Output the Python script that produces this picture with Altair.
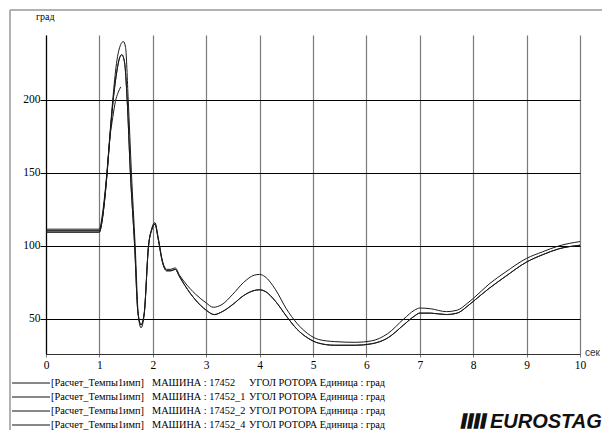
import altair as alt
import pandas as pd

# Rotor angle of machine 17452 (degrees) versus time (seconds)
t_a = [0, 1.0, 1.05, 1.1, 1.14, 1.2, 1.25, 1.32, 1.4, 1.45, 1.49, 1.54, 1.6, 1.67, 1.73, 1.78, 1.835,
       1.92, 1.98, 2.04, 2.1, 2.18, 2.26, 2.34, 2.42, 2.5, 2.6, 2.8, 3.0, 3.13, 3.3, 3.5, 3.7, 3.9, 4.0,
       4.1, 4.3, 4.5, 4.7, 4.9, 5.1, 5.4, 5.8, 6.1, 6.4, 6.7, 6.9, 7.0, 7.2, 7.5, 7.7, 7.9, 8.0, 8.3,
       8.6, 9.0, 9.3, 9.6, 10.0]
v_a = [111.5, 111.5, 120, 135, 150, 178, 200, 225, 238, 240, 236, 200, 150, 100, 52, 44, 52,
       100, 112, 116, 106, 90, 84, 84, 85, 80, 75, 67, 61, 58, 60, 67, 75, 80, 80.5,
       79, 70, 57, 47, 40, 36, 34.5, 34, 35, 40, 50, 56, 57.5, 57, 55, 56, 61, 64, 74,
       82, 91.5, 96, 100, 103]

t_b = [0, 1.0, 1.05, 1.1, 1.14, 1.2, 1.25, 1.32, 1.38, 1.42, 1.47, 1.52, 1.58, 1.66, 1.72, 1.78, 1.84,
       1.92, 1.98, 2.04, 2.1, 2.18, 2.26, 2.34, 2.42, 2.5, 2.6, 2.8, 3.0, 3.15, 3.3, 3.5, 3.7, 3.9, 4.0,
       4.1, 4.3, 4.5, 4.7, 4.9, 5.1, 5.4, 5.8, 6.1, 6.4, 6.7, 6.9, 7.0, 7.2, 7.5, 7.7, 7.9, 8.0, 8.3,
       8.6, 9.0, 9.3, 9.6, 10.0]
v_b = [109.5, 109.5, 117, 132, 148, 176, 197, 218, 229, 231, 226, 200, 150, 100, 55, 46, 54,
       100, 111, 115, 105, 89, 83, 83, 84, 79, 73, 63, 56, 53, 55, 60, 66, 69.5, 70,
       69, 62, 52, 43, 37, 33.5, 32, 32, 33, 37, 46, 52, 54, 54, 53, 54, 59, 62, 71,
       79, 89, 94, 98, 100.5]

t_c = [0, 1.0, 1.05, 1.1, 1.14, 1.2, 1.25, 1.3, 1.35, 1.4]
v_c = [110.5, 110.5, 118, 133, 149, 175, 188, 199, 205, 209]

t_d = t_b
v_d = v_b

series_names = ["17452", "17452_1", "17452_2", "17452_4"]
legend_source = "[Расчет_Темпы1имп]"
legend_machine = ["МАШИНА : 17452", "МАШИНА : 17452_1", "МАШИНА : 17452_2", "МАШИНА : 17452_4"]
legend_var = "УГОЛ РОТОРА Единица : град"

x_ticks = list(range(0, 11))
y_ticks = [50, 100, 150, 200]

rows = []
for name, ts, vs in zip(series_names, [t_a, t_b, t_c, t_d], [v_a, v_b, v_c, v_d]):
    for t, v in zip(ts, vs):
        rows.append({"series": name, "t": t, "v": v})
df = pd.DataFrame(rows)

SERIF = "Liberation Serif"
SANS = "Liberation Sans"
W, H = 534, 319
LEG_FS = 10.3
one = alt.Data(values=[{"k": 0}])

curves = alt.Chart(df).mark_line(color="#1a1a1a", strokeWidth=1, interpolate="monotone").encode(
    x=alt.X("t:Q", scale=alt.Scale(domain=[0, 10], nice=False, zero=False),
            axis=alt.Axis(values=x_ticks, title=None, grid=True, gridColor="#7a7a7a",
                          gridWidth=1.2, domainColor="#333", domainWidth=1.2,
                          tickColor="#7a7a7a", tickSize=3, labelFont=SERIF, labelFontSize=11.5,
                          labelColor="#000", labelPadding=2, labelFlush=False)),
    y=alt.Y("v:Q", scale=alt.Scale(domain=[26, 244.5], nice=False, zero=False),
            axis=alt.Axis(values=y_ticks, title=None, grid=True, gridColor="#000",
                          gridWidth=1, domainColor="#000", domainWidth=1.2,
                          tickColor="#000", tickSize=6, labelFont=SERIF, labelFontSize=11.5,
                          labelColor="#000", labelPadding=0)),
    detail="series:N",
)

# outer grey frame
frame_top = alt.Chart(one).mark_rule(color="#999", strokeWidth=1.5).encode(
    x=alt.value(-36), x2=alt.value(W + 40), y=alt.value(-25))
frame_left = alt.Chart(one).mark_rule(color="#999", strokeWidth=1.5).encode(
    x=alt.value(-36), y=alt.value(-25), y2=alt.value(H + 90))

unit_y = alt.Chart(one).mark_text(font=SERIF, fontSize=10, align="left", baseline="middle").encode(
    x=alt.value(-10), y=alt.value(-18), text=alt.value("град"))
unit_x = alt.Chart(one).mark_text(font=SANS, fontSize=10, align="left",
                                  baseline="middle", color="#333").encode(
    x=alt.value(W + 5), y=alt.value(H - 1), text=alt.value("сек"))

layers = [frame_top, frame_left, curves, unit_y, unit_x]

legend_rows_y = [383, 397, 411, 425]
for ry, machine in zip(legend_rows_y, legend_machine):
    yy = ry - 35
    layers.append(alt.Chart(one).mark_rule(color="#111", strokeWidth=1).encode(
        x=alt.value(-34), x2=alt.value(4), y=alt.value(yy)))
    layers.append(alt.Chart(one).mark_text(font=SERIF, fontSize=LEG_FS, align="left",
                                           baseline="middle").encode(
        x=alt.value(5), y=alt.value(yy), text=alt.value(legend_source)))
    layers.append(alt.Chart(one).mark_text(font=SERIF, fontSize=LEG_FS, align="left",
                                           baseline="middle").encode(
        x=alt.value(106), y=alt.value(yy), text=alt.value(machine)))
    layers.append(alt.Chart(one).mark_text(font=SERIF, fontSize=LEG_FS, align="left",
                                           baseline="middle").encode(
        x=alt.value(203), y=alt.value(yy), text=alt.value(legend_var)))

# logo: four slanted bars followed by the product name
for i in range(4):
    layers.append(alt.Chart(one).mark_text(font=SANS, fontSize=20, fontWeight="bold",
                                           fontStyle="italic", align="left",
                                           baseline="alphabetic", color="#111",
                                           stroke="#111", strokeWidth=1.6).encode(
        x=alt.value(415 + 6.5 * i), y=alt.value(393), text=alt.value("I")))
layers.append(alt.Chart(one).mark_text(font=SANS, fontSize=20, fontWeight="bold",
                                       fontStyle="italic", align="left", baseline="alphabetic",
                                       color="#111").encode(
    x=alt.value(444), y=alt.value(393), text=alt.value("EUROSTAG")))

chart = alt.layer(*layers).properties(
    width=W, height=H,
    autosize=alt.AutoSizeParams(type="none"),
    padding={"left": 46, "top": 35, "right": 22, "bottom": 76},
    background="white",
).configure_view(stroke=None)

chart.save("out.html", embed_options={"renderer": "svg", "actions": False})
